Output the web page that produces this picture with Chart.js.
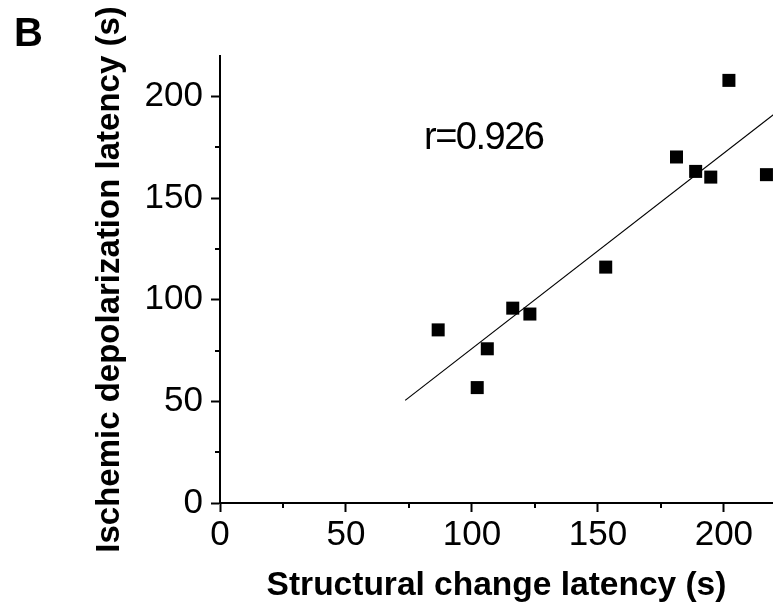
<!DOCTYPE html>
<html><head><meta charset="utf-8">
<script src="https://cdn.jsdelivr.net/npm/chart.js@4/dist/chart.umd.min.js"></script>
<style>html,body{margin:0;padding:0;background:#fff;overflow:hidden}#wrap{width:773px;height:608px}</style>
</head><body><div id="wrap"><canvas id="c" width="773" height="608"></canvas></div>
<script>
const structuralLatency = [86.6, 102.1, 106.1, 116.2, 123.0, 153.1, 181.2, 188.8, 194.8, 202.0, 216.9];
const depolarizationLatency = [85.2, 56.8, 75.9, 95.9, 93.0, 116.1, 170.3, 163.2, 160.4, 208.0, 161.6];
const fitLineX = [73.5, 220];
const fitLineY = [50.5, 191.5];
const xTickValues = [0, 50, 100, 150, 200];
const yTickValues = [0, 50, 100, 150, 200];
const minorTickValues = [25, 75, 125, 175];
const correlationLabel = 'r=0.926';
const panelLabel = 'B';
const xTitle = 'Structural change latency (s)';
const yTitle = 'Ischemic depolarization latency (s)';

const FONT = '"Liberation Sans", Arial, Helvetica, sans-serif';

const points = structuralLatency.map((x, i) => ({x: x, y: depolarizationLatency[i]}));
const fitLine = fitLineX.map((x, i) => ({x: x, y: fitLineY[i]}));

const extras = {
  id: 'extras',
  afterDraw(chart) {
    const ctx = chart.ctx;
    const xs = chart.scales.x, ys = chart.scales.y;
    ctx.save();
    ctx.strokeStyle = '#000';
    ctx.lineWidth = 2;
    ctx.beginPath();
    minorTickValues.forEach(v => {
      const px = Math.round(xs.getPixelForValue(v));
      ctx.moveTo(px, xs.top); ctx.lineTo(px, xs.top + 5);
      const py = Math.round(ys.getPixelForValue(v));
      ctx.moveTo(ys.right, py); ctx.lineTo(ys.right - 5, py);
    });
    ctx.stroke();
    ctx.fillStyle = '#000';
    ctx.textBaseline = 'alphabetic';
    ctx.textAlign = 'left';
    ctx.font = 'bold 40px ' + FONT;
    ctx.fillText(panelLabel, 14, 46);
    ctx.font = '38px ' + FONT;
    if ('letterSpacing' in ctx) ctx.letterSpacing = '-1.5px';
    ctx.fillText(correlationLabel, 424, 149);
    ctx.restore();
  }
};

new Chart(document.getElementById('c'), {
  type: 'scatter',
  data: {
    datasets: [
      {
        type: 'scatter',
        data: points,
        pointStyle: 'rect',
        pointRadius: 9.2,
        pointHoverRadius: 9.2,
        backgroundColor: '#000',
        borderWidth: 0
      },
      {
        type: 'line',
        data: fitLine,
        borderColor: '#000',
        borderWidth: 1.2,
        pointRadius: 0,
        fill: false,
        tension: 0
      }
    ]
  },
  options: {
    responsive: false,
    devicePixelRatio: 1,
    animation: false,
    events: [],
    layout: {autoPadding: false, padding: {left: 0, right: 0, top: 56, bottom: 0}},
    plugins: {legend: {display: false}, tooltip: {enabled: false}},
    scales: {
      x: {
        type: 'linear', min: 0, max: 219.5,
        afterBuildTicks: s => { s.ticks = xTickValues.map(v => ({value: v})); },
        afterFit: s => { s.height = 105; s.paddingLeft = 0; s.paddingRight = 0; },
        ticks: {font: {family: FONT, size: 35}, color: '#000', padding: 2, autoSkip: false, maxRotation: 0, callback: v => String(v)},
        grid: {drawOnChartArea: false, drawTicks: true, tickLength: 9, tickWidth: 2, tickColor: '#000'},
        border: {display: true, color: '#000', width: 2},
        title: {display: true, text: xTitle, color: '#000', font: {family: FONT, size: 33.5, weight: 'bold'}, padding: {top: 0, bottom: 2}}
      },
      y: {
        type: 'linear', min: 0, max: 220,
        afterBuildTicks: s => { s.ticks = yTickValues.map(v => ({value: v})); },
        afterFit: s => { s.width = 220; s.paddingTop = 0; s.paddingBottom = 0; },
        ticks: {font: {family: FONT, size: 35}, color: '#000', padding: 8, autoSkip: false, callback: v => String(v)},
        grid: {drawOnChartArea: false, drawTicks: true, tickLength: 9, tickWidth: 2, tickColor: '#000'},
        border: {display: true, color: '#000', width: 2},
        title: {display: true, text: yTitle, color: '#000', font: {family: FONT, size: 33, weight: 'bold'}, padding: {top: 90, bottom: 0}}
      }
    }
  },
  plugins: [extras]
});
</script></body></html>
